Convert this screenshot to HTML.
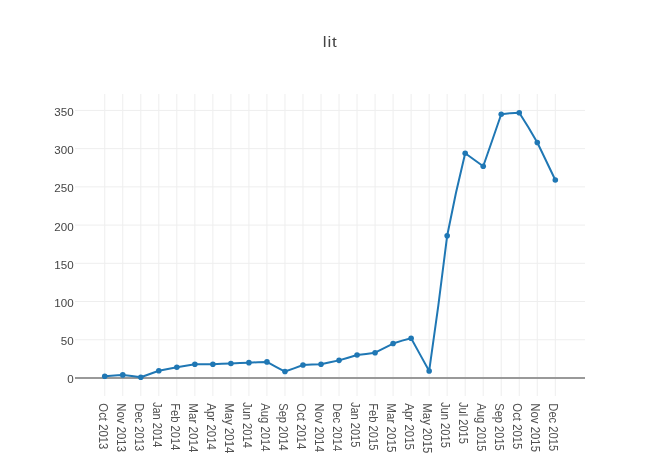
<!DOCTYPE html>
<html><head><meta charset="utf-8"><title>lit</title>
<style>
html,body{margin:0;padding:0;background:#fff;overflow:hidden}
svg{display:block;will-change:transform}
text{font-family:"Liberation Sans", Arial, sans-serif;fill:#444}
.xl text{fill:#4f4f4f}
</style></head><body>
<svg width="660" height="471" viewBox="0 0 660 471">
<rect x="0" y="0" width="660" height="471" fill="#fff"/>
<g stroke="#eee" stroke-width="1" fill="none">
<path d="M104.75,94V396"/>
<path d="M122.77,94V396"/>
<path d="M140.79,94V396"/>
<path d="M158.82,94V396"/>
<path d="M176.84,94V396"/>
<path d="M194.86,94V396"/>
<path d="M212.88,94V396"/>
<path d="M230.90,94V396"/>
<path d="M248.93,94V396"/>
<path d="M266.95,94V396"/>
<path d="M284.97,94V396"/>
<path d="M302.99,94V396"/>
<path d="M321.01,94V396"/>
<path d="M339.04,94V396"/>
<path d="M357.06,94V396"/>
<path d="M375.08,94V396"/>
<path d="M393.10,94V396"/>
<path d="M411.12,94V396"/>
<path d="M429.15,94V396"/>
<path d="M447.17,94V396"/>
<path d="M465.19,94V396"/>
<path d="M483.21,94V396"/>
<path d="M501.23,94V396"/>
<path d="M519.26,94V396"/>
<path d="M537.28,94V396"/>
<path d="M555.30,94V396"/>
<path d="M75,339.74H585"/>
<path d="M75,301.52H585"/>
<path d="M75,263.31H585"/>
<path d="M75,225.09H585"/>
<path d="M75,186.88H585"/>
<path d="M75,148.66H585"/>
<path d="M75,110.44H585"/>
</g>
<path d="M75,377.95H585" stroke="#999999" stroke-width="2" fill="none"/>
<path d="M104.75,376.19L117.82,375.21L122.77,374.89L131.78,376.08L140.79,377.19L149.81,374.00L158.82,370.69L167.83,368.94L176.84,367.25L185.85,365.69L194.86,364.19L203.87,364.17L212.88,364.19L221.89,363.82L230.90,363.43L239.92,363.05L248.93,362.66L257.95,362.19L266.95,361.90L275.96,366.77L284.97,371.53L293.97,368.33L302.99,364.96L312.00,364.55L321.01,364.19L330.03,362.33L339.04,360.37L348.05,357.68L357.06,355.02L366.07,353.90L375.08,352.73L384.09,348.17L393.10,343.56L402.15,340.63L411.12,338.21L420.27,354.86L429.15,371.07L438.31,305.55L447.17,235.79L455.93,192.99L465.19,153.25L474.19,159.73L483.21,166.24L492.18,140.49L501.23,114.27L510.23,113.13L519.26,112.74L528.36,127.25L537.28,142.55L542.25,152.78L555.30,180.00" fill="none" stroke="#1f77b4" stroke-width="2" stroke-linejoin="round" stroke-linecap="butt"/>
<g fill="#1f77b4">
<circle cx="104.75" cy="376.19" r="2.8"/>
<circle cx="122.77" cy="374.89" r="2.8"/>
<circle cx="140.79" cy="377.19" r="2.8"/>
<circle cx="158.82" cy="370.69" r="2.8"/>
<circle cx="176.84" cy="367.25" r="2.8"/>
<circle cx="194.86" cy="364.19" r="2.8"/>
<circle cx="212.88" cy="364.19" r="2.8"/>
<circle cx="230.90" cy="363.43" r="2.8"/>
<circle cx="248.93" cy="362.66" r="2.8"/>
<circle cx="266.95" cy="361.90" r="2.8"/>
<circle cx="284.97" cy="371.53" r="2.8"/>
<circle cx="302.99" cy="364.96" r="2.8"/>
<circle cx="321.01" cy="364.19" r="2.8"/>
<circle cx="339.04" cy="360.37" r="2.8"/>
<circle cx="357.06" cy="355.02" r="2.8"/>
<circle cx="375.08" cy="352.73" r="2.8"/>
<circle cx="393.10" cy="343.56" r="2.8"/>
<circle cx="411.12" cy="338.21" r="2.8"/>
<circle cx="429.15" cy="371.07" r="2.8"/>
<circle cx="447.17" cy="235.79" r="2.8"/>
<circle cx="465.19" cy="153.25" r="2.8"/>
<circle cx="483.21" cy="166.24" r="2.8"/>
<circle cx="501.23" cy="114.27" r="2.8"/>
<circle cx="519.26" cy="112.74" r="2.8"/>
<circle cx="537.28" cy="142.55" r="2.8"/>
<circle cx="555.30" cy="180.00" r="2.8"/>
</g>
<g font-size="11.8" text-anchor="end">
<text x="73.65" y="383.40" textLength="6.45" lengthAdjust="spacingAndGlyphs">0</text>
<text x="73.65" y="345.19" textLength="12.89" lengthAdjust="spacingAndGlyphs">50</text>
<text x="73.65" y="306.97" textLength="19.34" lengthAdjust="spacingAndGlyphs">100</text>
<text x="73.65" y="268.75" textLength="19.34" lengthAdjust="spacingAndGlyphs">150</text>
<text x="73.65" y="230.54" textLength="19.34" lengthAdjust="spacingAndGlyphs">200</text>
<text x="73.65" y="192.32" textLength="19.34" lengthAdjust="spacingAndGlyphs">250</text>
<text x="73.65" y="154.11" textLength="19.34" lengthAdjust="spacingAndGlyphs">300</text>
<text x="73.65" y="115.89" textLength="19.34" lengthAdjust="spacingAndGlyphs">350</text>
</g>
<g font-size="12.7" text-anchor="start" class="xl">
<text transform="translate(98.85,403.30) rotate(90)" x="0" y="0" textLength="46.16" lengthAdjust="spacingAndGlyphs">Oct 2013</text>
<text transform="translate(116.87,403.30) rotate(90)" x="0" y="0" textLength="48.73" lengthAdjust="spacingAndGlyphs">Nov 2013</text>
<text transform="translate(134.89,403.30) rotate(90)" x="0" y="0" textLength="47.92" lengthAdjust="spacingAndGlyphs">Dec 2013</text>
<text transform="translate(152.92,402.00) rotate(90)" x="0" y="0" textLength="45.26" lengthAdjust="spacingAndGlyphs">Jan 2014</text>
<text transform="translate(170.94,403.30) rotate(90)" x="0" y="0" textLength="47.07" lengthAdjust="spacingAndGlyphs">Feb 2014</text>
<text transform="translate(188.96,403.30) rotate(90)" x="0" y="0" textLength="49.04" lengthAdjust="spacingAndGlyphs">Mar 2014</text>
<text transform="translate(206.98,403.30) rotate(90)" x="0" y="0" textLength="46.67" lengthAdjust="spacingAndGlyphs">Apr 2014</text>
<text transform="translate(225.00,403.30) rotate(90)" x="0" y="0" textLength="50.10" lengthAdjust="spacingAndGlyphs">May 2014</text>
<text transform="translate(243.03,402.00) rotate(90)" x="0" y="0" textLength="45.90" lengthAdjust="spacingAndGlyphs">Jun 2014</text>
<text transform="translate(261.05,403.30) rotate(90)" x="0" y="0" textLength="48.23" lengthAdjust="spacingAndGlyphs">Aug 2014</text>
<text transform="translate(279.07,403.30) rotate(90)" x="0" y="0" textLength="47.43" lengthAdjust="spacingAndGlyphs">Sep 2014</text>
<text transform="translate(297.09,403.30) rotate(90)" x="0" y="0" textLength="46.16" lengthAdjust="spacingAndGlyphs">Oct 2014</text>
<text transform="translate(315.11,403.30) rotate(90)" x="0" y="0" textLength="48.73" lengthAdjust="spacingAndGlyphs">Nov 2014</text>
<text transform="translate(333.14,403.30) rotate(90)" x="0" y="0" textLength="47.92" lengthAdjust="spacingAndGlyphs">Dec 2014</text>
<text transform="translate(351.16,402.00) rotate(90)" x="0" y="0" textLength="45.26" lengthAdjust="spacingAndGlyphs">Jan 2015</text>
<text transform="translate(369.18,403.30) rotate(90)" x="0" y="0" textLength="47.07" lengthAdjust="spacingAndGlyphs">Feb 2015</text>
<text transform="translate(387.20,403.30) rotate(90)" x="0" y="0" textLength="49.04" lengthAdjust="spacingAndGlyphs">Mar 2015</text>
<text transform="translate(405.22,403.30) rotate(90)" x="0" y="0" textLength="46.67" lengthAdjust="spacingAndGlyphs">Apr 2015</text>
<text transform="translate(423.25,403.30) rotate(90)" x="0" y="0" textLength="50.10" lengthAdjust="spacingAndGlyphs">May 2015</text>
<text transform="translate(441.27,402.00) rotate(90)" x="0" y="0" textLength="45.90" lengthAdjust="spacingAndGlyphs">Jun 2015</text>
<text transform="translate(459.29,402.00) rotate(90)" x="0" y="0" textLength="41.89" lengthAdjust="spacingAndGlyphs">Jul 2015</text>
<text transform="translate(477.31,403.30) rotate(90)" x="0" y="0" textLength="48.23" lengthAdjust="spacingAndGlyphs">Aug 2015</text>
<text transform="translate(495.33,403.30) rotate(90)" x="0" y="0" textLength="47.43" lengthAdjust="spacingAndGlyphs">Sep 2015</text>
<text transform="translate(513.36,403.30) rotate(90)" x="0" y="0" textLength="46.16" lengthAdjust="spacingAndGlyphs">Oct 2015</text>
<text transform="translate(531.38,403.30) rotate(90)" x="0" y="0" textLength="48.73" lengthAdjust="spacingAndGlyphs">Nov 2015</text>
<text transform="translate(549.40,403.30) rotate(90)" x="0" y="0" textLength="47.92" lengthAdjust="spacingAndGlyphs">Dec 2015</text>
</g>
<text transform="translate(322.85,46.8) scale(1.1,1)" x="0" y="0" font-size="15.5" letter-spacing="0.75">lit</text>
</svg></body></html>
